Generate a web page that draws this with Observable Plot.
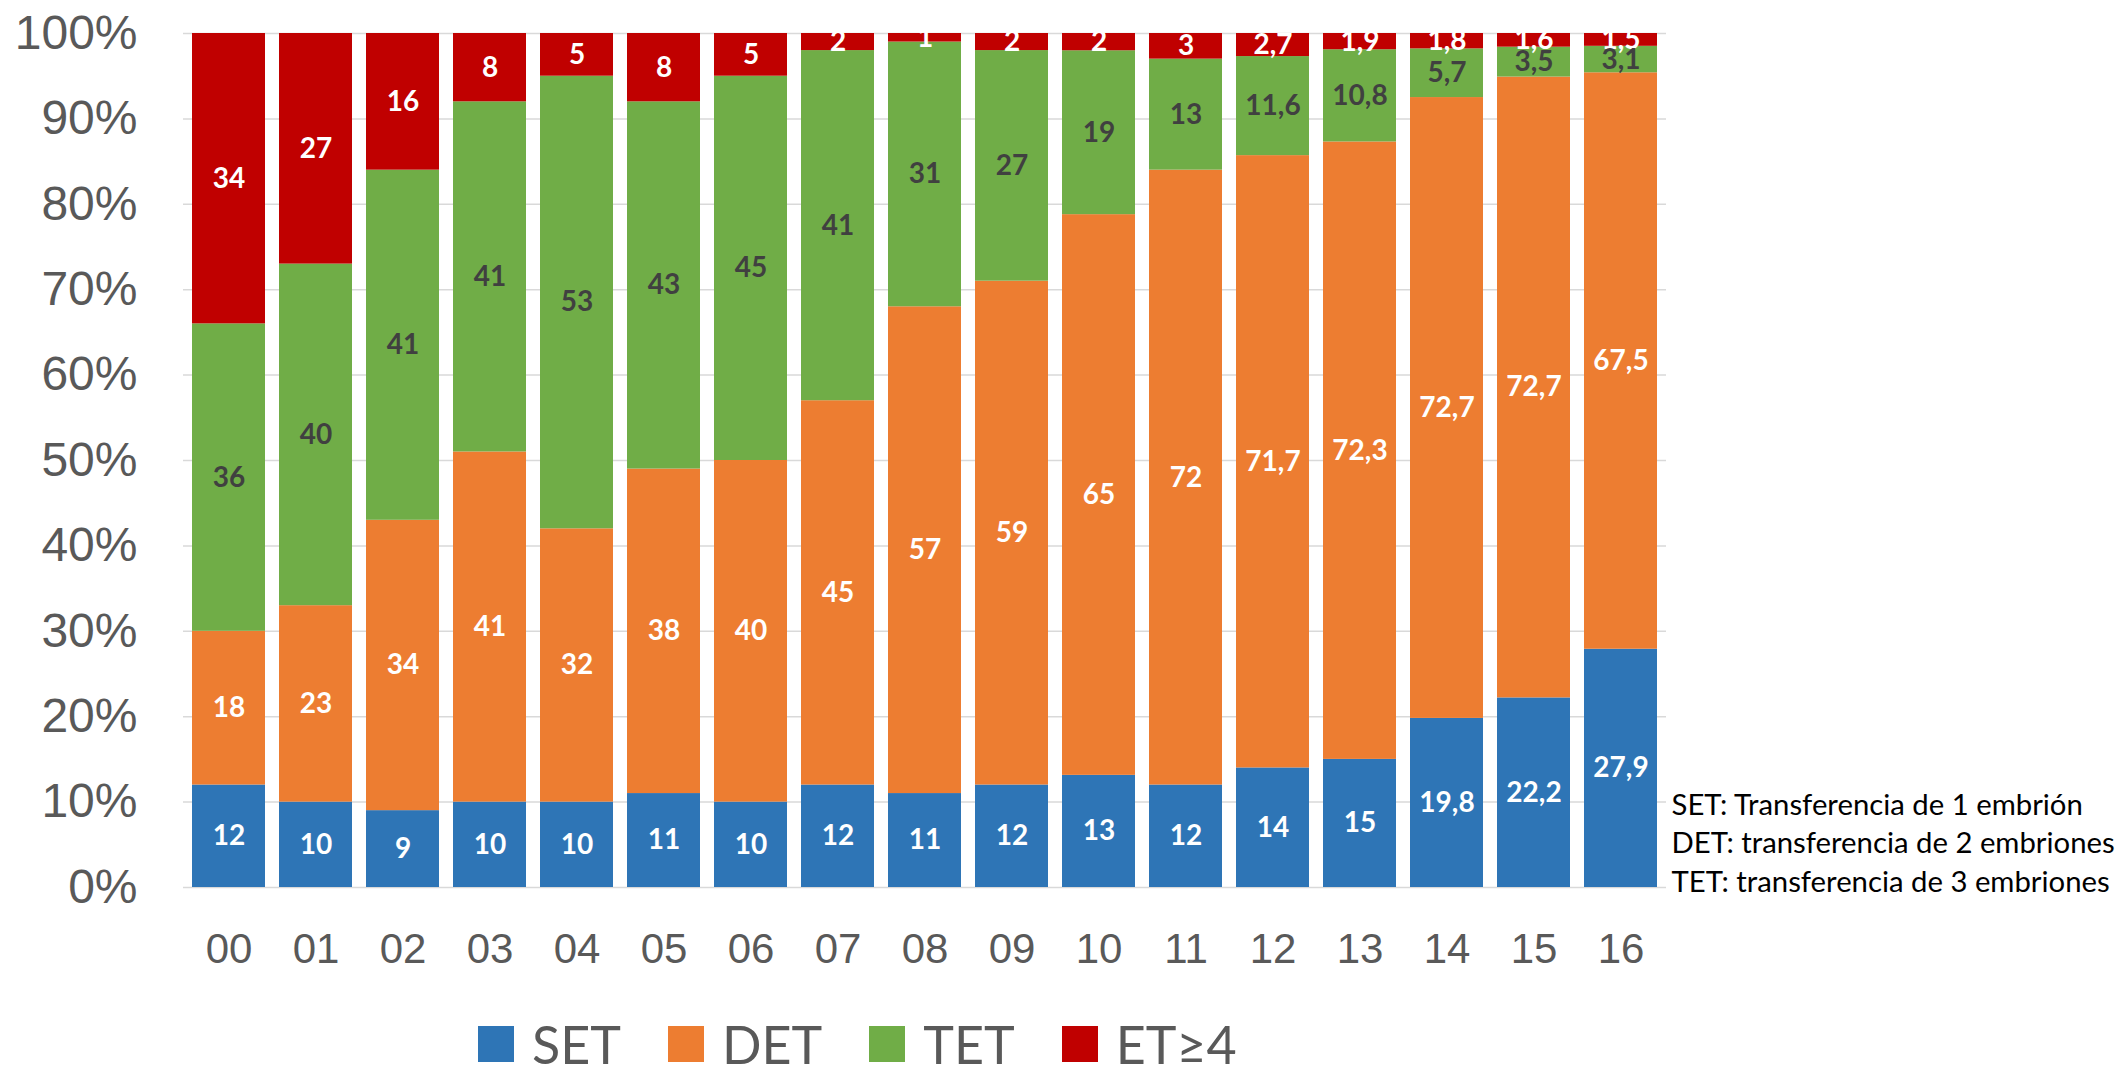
<!DOCTYPE html>
<html>
<head>
<meta charset="utf-8">
<script src="https://cdn.jsdelivr.net/npm/d3@7"></script>
<script src="https://cdn.jsdelivr.net/npm/@observablehq/plot@0.6"></script>
<style>
  html, body { margin: 0; padding: 0; background: #fff; overflow: hidden; }
  #chart svg { display: block; }
  #legend { height: 64px; display: flex; align-items: flex-end; padding-left: 478px; font-family: Lato, "Open Sans", sans-serif; color: #595959; font-size: 52px; }
  .item { display: flex; align-items: center; margin-right: 47px; height: 50px; }
  .sw { width: 36px; height: 36px; margin-right: 18px; }
  .lab { line-height: 50px; }
</style>
</head>
<body>
<div id="chart"></div>
<div id="legend"></div>
<script>
const years = ["00","01","02","03","04","05","06","07","08","09","10","11","12","13","14","15","16"];
const seriesNames = ["SET","DET","TET","ET≥4"];
const colors = ["#2E75B6","#ED7D31","#70AD47","#C00000"];
const SET = [12,10,9,10,10,11,10,12,11,12,13,12,14,15,19.8,22.2,27.9];
const DET = [18,23,34,41,32,38,40,45,57,59,65,72,71.7,72.3,72.7,72.7,67.5];
const TET = [36,40,41,41,53,43,45,41,31,27,19,13,11.6,10.8,5.7,3.5,3.1];
const ET4 = [34,27,16,8,5,8,5,2,1,2,2,3,2.7,1.9,1.8,1.6,1.5];
const yTicks = [0,10,20,30,40,50,60,70,80,90,100];
const notes = ["SET: Transferencia de 1 embrión\nDET: transferencia de 2 embriones\nTET: transferencia de 3 embriones"];

const seriesValues = [SET, DET, TET, ET4];
const data = [];
years.forEach((yr, i) => {
  seriesNames.forEach((s, j) => data.push({year: yr, series: s, value: seriesValues[j][i]}));
});
const fmt = v => String(v).replace(".", ",");
const labelFont = "Lato, 'Open Sans', sans-serif";

const chart = Plot.plot({
  width: 2124,
  height: 1005,
  marginLeft: 183,
  marginRight: 458,
  marginTop: 33,
  marginBottom: 118,
  style: {fontFamily: "'Liberation Sans', Arial, sans-serif", background: "#fff"},
  x: {domain: years, paddingInner: 0.163, paddingOuter: 0.085, label: null},
  y: {domain: [0, 1], label: null},
  color: {domain: seriesNames, range: colors},
  marks: [
    Plot.gridY(yTicks.map(d => d / 100), {stroke: "#d9d9d9", strokeOpacity: 1, strokeWidth: 1.5}),
    Plot.barY(data, Plot.stackY({offset: "normalize", x: "year", y: "value", fill: "series"})),
    Plot.text(data, Plot.stackY({offset: "normalize", x: "year", y: "value", text: d => d.series === "TET" ? "" : fmt(d.value), fill: "#ffffff", fontFamily: labelFont, fontWeight: "bold", fontSize: 28})),
    Plot.text(data, Plot.stackY({offset: "normalize", x: "year", y: "value", text: d => d.series === "TET" ? fmt(d.value) : "", fill: "#404040", fontFamily: labelFont, fontWeight: "bold", fontSize: 28})),
    Plot.axisY(yTicks.map(d => d / 100), {tickSize: 0, tickPadding: 46, fontSize: 48, fill: "#595959", tickFormat: d => Math.round(d * 100) + "%", label: null}),
    Plot.axisX({tickSize: 0, tickPadding: 46, fontSize: 42, fill: "#595959", label: null}),
    Plot.text(notes, {frameAnchor: "bottom-right", textAnchor: "start", lineAnchor: "bottom", dx: 5, dy: 4, lineHeight: 1.31, fontSize: 29.3, fontFamily: labelFont, fill: "#000"})
  ]
});
document.getElementById("chart").appendChild(chart);

const legend = document.getElementById("legend");
seriesNames.forEach((s, i) => {
  const item = document.createElement("div");
  item.className = "item";
  const sw = document.createElement("div");
  sw.className = "sw";
  sw.style.background = colors[i];
  const lab = document.createElement("span");
  lab.className = "lab";
  lab.textContent = s;
  item.appendChild(sw);
  item.appendChild(lab);
  legend.appendChild(item);
});
</script>
</body>
</html>
